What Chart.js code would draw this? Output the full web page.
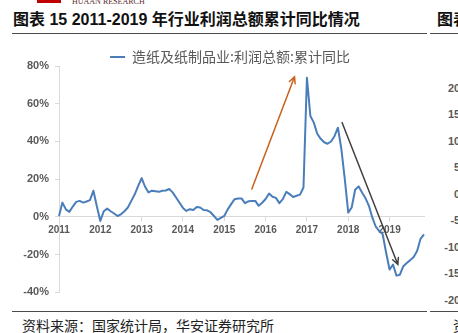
<!DOCTYPE html>
<html>
<head>
<meta charset="utf-8">
<script src="https://cdn.jsdelivr.net/npm/chart.js@4.4.1/dist/chart.umd.min.js"></script>
<style>
  html, body { margin: 0; padding: 0; background: #fff; }
  body { width: 458px; height: 333px; position: relative; overflow: hidden; }
  .abs { position: absolute; white-space: nowrap; }
  .logo { left: 37px; top: 0; width: 24px; height: 3px; background: #c00000; }
  .brand { left: 72px; top: -2.7px; font: 8px/10px "Liberation Serif", serif; color: #5a2d2d; }
  .title { top: 10px; font: bold 16px/20px "Liberation Sans", "Noto Sans CJK SC", sans-serif; color: #111; }
  .rule { height: 1.5px; background: #4a4a4a; }
  .source { top: 316px; font: 14px/18px "Noto Sans CJK SC", sans-serif; color: #222; }
  .side-tick { left: 420px; width: 50px; text-align: right; font: bold 11px/13px "Liberation Sans", sans-serif; color: #595959; }
  #chartBox { position: absolute; left: 0; top: 44px; width: 445px; height: 261px; }
</style>
</head>
<body>
<div class="abs logo"></div>
<div class="abs brand">HUAAN RESEARCH</div>
<div class="abs title" style="left:13px">图表 15 2011-2019 年行业利润总额累计同比情况</div>
<div class="abs title" style="left:437px">图表</div>
<div class="abs rule" style="left:12px; top:32.5px; width:415px"></div>
<div class="abs rule" style="left:430px; top:32.5px; width:28px"></div>
<div class="abs rule" style="left:12px; top:310.5px; width:415px"></div>
<div class="abs rule" style="left:430px; top:310.5px; width:28px"></div>
<div class="abs source" style="left:22px">资料来源：国家统计局，华安证券研究所</div>
<div class="abs source" style="left:453px">资</div>
<div id="sideAxis"></div>
<div id="chartBox"><canvas id="profitChart"></canvas></div>

<script>
// monthly cumulative YoY, 2011-01 .. 2019-11
const years = [2011, 2012, 2013, 2014, 2015, 2016, 2017, 2018, 2019];
const monthsIn2019 = 11;
const seriesName = '造纸及纸制品业:利润总额:累计同比';
const profitYoY = [
    0.5, 7.6, 4.0, 2.7, 5.5, 8.0, 8.5, 7.6, 8.2, 8.9, 13.9, 5.5,        // 2011
    -2.1, 3.0, 4.4, 3.0, 1.8, 0.5, 1.4, 3.0, 5.0, 8.5, 12.0, 16.5,      // 2012
    20.6, 16.0, 13.0, 13.9, 13.6, 13.3, 13.9, 14.0, 14.8, 13.0, 10.3, 7.5, // 2013
    4.8, 3.2, 4.1, 3.7, 5.3, 5.0, 3.7, 3.5, 2.5, 0.5, -1.6, -0.5,       // 2014
    0.5, 4.0, 6.8, 9.4, 9.8, 9.8, 7.3, 8.3, 8.5, 8.5, 5.9, 7.5,         // 2015
    9.5, 12.4, 10.7, 10.1, 7.3, 9.4, 13.3, 12.1, 10.6, 11.2, 11.8, 15.6, // 2016
    73.8, 53.5, 50.0, 44.1, 41.4, 39.6, 38.8, 40.0, 42.8, 47.3, 36.0, 20.0, // 2017
    2.3, 5.0, 14.4, 16.2, 13.0, 10.0, 5.9, -0.4, -5.2, -7.5, -9.2, -19.0, // 2018
    -27.9, -25.2, -31.1, -30.6, -26.1, -24.4, -22.9, -21.2, -18.1, -11.6, -9.2 // 2019
];
const yTicks = [-40, -20, 0, 20, 40, 60, 80];
// neighbouring chart's axis (only its edge is visible)
const sideTicks = [20, 15, 10, 5, 0, -5, -10, -15, -20];

// trend arrows, [month index, %]
const upArrow = [[56, 14.8], [68.4, 74.3]];
const downArrow = [[82.2, 50], [98.4, -25.2]];

const labels = [];
years.forEach(yr => {
    const n = yr === 2019 ? monthsIn2019 : 12;
    for (let m = 1; m <= n; m++) labels.push(yr + '-' + String(m).padStart(2, '0'));
});

const side = document.getElementById('sideAxis');
sideTicks.forEach((v, i) => {
    const d = document.createElement('div');
    d.className = 'abs side-tick';
    d.style.top = (81.5 + i * 26.5) + 'px';
    d.textContent = v + '%';
    side.appendChild(d);
});

const arrowPlugin = {
    id: 'trendArrows',
    afterDatasetsDraw(chart) {
        const { ctx, scales: { x, y } } = chart;
        const draw = (pts, color) => {
            const x0 = x.getPixelForValue(pts[0][0]), y0 = y.getPixelForValue(pts[0][1]);
            const x1 = x.getPixelForValue(pts[1][0]), y1 = y.getPixelForValue(pts[1][1]);
            const ang = Math.atan2(y1 - y0, x1 - x0);
            const head = 7;
            ctx.save();
            ctx.strokeStyle = color;
            ctx.lineWidth = 1.5;
            ctx.lineCap = 'round';
            ctx.beginPath();
            ctx.moveTo(x0, y0);
            ctx.lineTo(x1, y1);
            ctx.moveTo(x1 - head * Math.cos(ang - 0.45), y1 - head * Math.sin(ang - 0.45));
            ctx.lineTo(x1, y1);
            ctx.lineTo(x1 - head * Math.cos(ang + 0.45), y1 - head * Math.sin(ang + 0.45));
            ctx.stroke();
            ctx.restore();
        };
        draw(upArrow, '#c9601a');
        draw(downArrow, '#404040');
    }
};

// legend is centred over the labels+plot block, not the whole canvas
const legendShift = {
    id: 'legendShift',
    afterLayout(chart) {
        if (chart.legend) chart.legend.left = 36;
    }
};

Chart.defaults.font.family = '"Liberation Sans", "Noto Sans CJK SC", sans-serif';

new Chart(document.getElementById('profitChart'), {
    type: 'line',
    data: {
        labels: labels,
        datasets: [{
            label: seriesName,
            data: profitYoY,
            borderColor: '#4a7ebb',
            backgroundColor: '#4a7ebb',
            borderWidth: 2,
            pointRadius: 0,
            tension: 0,
            borderJoinStyle: 'round'
        }]
    },
    options: {
        responsive: true,
        maintainAspectRatio: false,
        animation: false,
        layout: { padding: { top: 6, left: 0, right: 21, bottom: 8 } },
        plugins: {
            legend: {
                position: 'top',
                maxHeight: 16,
                labels: {
                    padding: 0,
                    usePointStyle: true,
                    pointStyle: 'line',
                    pointStyleWidth: 15,
                    color: '#595959',
                    font: { size: 14, family: '"Noto Sans CJK SC", sans-serif' }
                }
            },
            tooltip: { enabled: false }
        },
        scales: {
            x: {
                position: { y: 0 },
                border: { color: '#d9d9d9', width: 1 },
                grid: { drawOnChartArea: false, tickLength: 4, tickColor: '#d9d9d9' },
                ticks: {
                    autoSkip: false,
                    maxRotation: 0,
                    minRotation: 0,
                    padding: 3,
                    color: '#595959',
                    font: { size: 10, weight: 'bold' },
                    callback: function (value) {
                        const lab = this.getLabelForValue(value);
                        return lab.endsWith('-01') ? lab.slice(0, 4) : null;
                    }
                }
            },
            y: {
                min: -40,
                max: 80,
                afterFit: scale => { scale.width = 59; },
                afterBuildTicks: scale => { scale.ticks = yTicks.map(v => ({ value: v })); },
                border: { color: '#d9d9d9', width: 1 },
                grid: { color: 'rgba(0,0,0,0)', tickLength: 4, tickColor: '#d9d9d9' },
                ticks: {
                    padding: 6,
                    color: '#595959',
                    font: { size: 11, weight: 'bold' },
                    callback: v => v + '%'
                }
            }
        }
    },
    plugins: [arrowPlugin, legendShift]
});
</script>
</body>
</html>
